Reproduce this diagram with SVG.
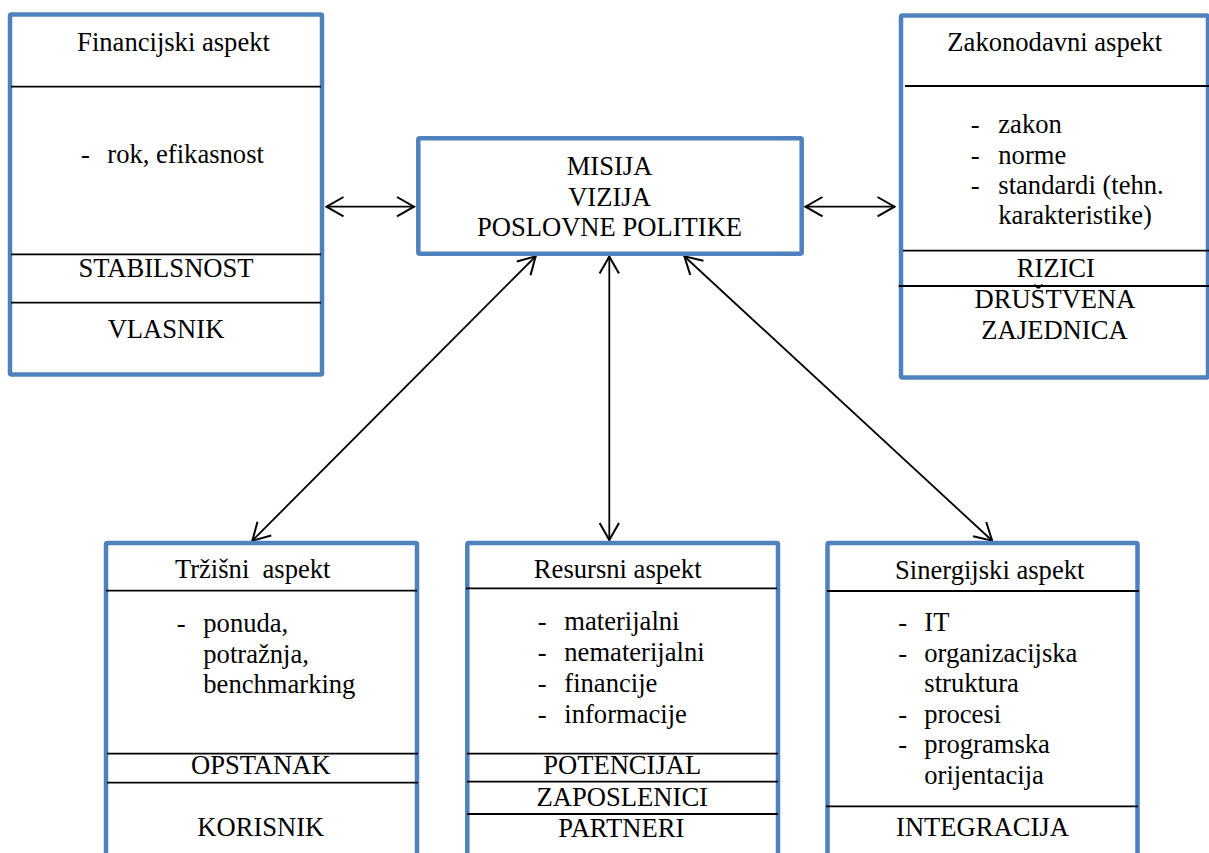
<svg xmlns="http://www.w3.org/2000/svg" width="1209" height="853" viewBox="0 0 1209 853">
<style>
.box{fill:#fff;stroke:#4F81BD;stroke-width:4.5}
.sep{stroke:#000;stroke-width:1.8}
text{font-family:'Liberation Serif','Tinos','Times New Roman','DejaVu Serif',serif;font-size:26.6px;fill:#000}
.c{text-anchor:middle}
.con{stroke:#000;stroke-width:1.8;fill:none}
</style>
<defs>
<marker id="ah" viewBox="-22 -12 24 24" markerWidth="24" markerHeight="24" refX="0" refY="0" orient="auto-start-reverse" markerUnits="userSpaceOnUse">
<path d="M-17.5,-9.7 L-0.5,0 L-17.5,9.7" fill="none" stroke="#000" stroke-width="2"/>
</marker>
</defs>
<rect width="1209" height="853" fill="#fff"/>

<g id="connectors">
<line class="con" x1="326" y1="206.7" x2="414.5" y2="206.7" marker-start="url(#ah)" marker-end="url(#ah)"/>
<line class="con" x1="805" y1="206.7" x2="895" y2="206.7" marker-start="url(#ah)" marker-end="url(#ah)"/>
<line class="con" x1="536" y1="256" x2="252" y2="541" marker-start="url(#ah)" marker-end="url(#ah)"/>
<line class="con" x1="609.3" y1="256" x2="609.3" y2="540.5" marker-start="url(#ah)" marker-end="url(#ah)"/>
<line class="con" x1="684" y1="256" x2="992.5" y2="541" marker-start="url(#ah)" marker-end="url(#ah)"/>
</g>

<g id="financijski" font-family="Liberation Serif, serif">
<rect class="box" x="10" y="14.5" width="312" height="360" rx="1.5"/>
<line class="sep" x1="11" y1="86.7" x2="321" y2="86.7"/>
<line class="sep" x1="11" y1="254.3" x2="321" y2="254.3"/>
<line class="sep" x1="11" y1="302.7" x2="321" y2="302.7"/>
<text class="c" x="173.5" y="51">Financijski aspekt</text>
<text x="81" y="163.3">-</text>
<text x="107.3" y="163.3">rok, efikasnost</text>
<text class="c" x="166" y="277.3">STABILSNOST</text>
<text class="c" x="166" y="338.3">VLASNIK</text>
</g>

<g id="misija">
<rect class="box" x="418.3" y="138.3" width="383.4" height="115.5" rx="1.5"/>
<text class="c" x="609.5" y="175">MISIJA</text>
<text class="c" x="609.5" y="206">VIZIJA</text>
<text class="c" x="609.5" y="235.7">POSLOVNE POLITIKE</text>
</g>

<g id="zakonodavni">
<rect class="box" x="901" y="15.5" width="307" height="362" rx="1.5"/>
<line class="sep" x1="905" y1="86" x2="1209" y2="86"/>
<line class="sep" x1="903" y1="250.7" x2="1209" y2="250.7"/>
<line class="sep" x1="898.7" y1="286" x2="1209" y2="286"/>
<text class="c" x="1054.8" y="50.7">Zakonodavni aspekt</text>
<text x="970.7" y="133.3">-</text>
<text x="998.3" y="133.3">zakon</text>
<text x="970.7" y="164">-</text>
<text x="998.3" y="164">norme</text>
<text x="970.7" y="194.3">-</text>
<text x="998.3" y="194.3">standardi (tehn.</text>
<text x="998.3" y="224.3">karakteristike)</text>
<text class="c" x="1055.8" y="277.3">RIZICI</text>
<text class="c" x="1055" y="308.3">DRUŠTVENA</text>
<text class="c" x="1054.5" y="339">ZAJEDNICA</text>
</g>

<g id="trzisni">
<rect class="box" x="106" y="543" width="311" height="340" rx="1.5"/>
<line class="sep" x1="106" y1="590.7" x2="417" y2="590.7"/>
<line class="sep" x1="107" y1="753.7" x2="418" y2="753.7"/>
<line class="sep" x1="107" y1="782.7" x2="418" y2="782.7"/>
<text class="c" x="252.7" y="578.3">Tržišni&#160; aspekt</text>
<text x="176.7" y="631.7">-</text>
<text x="203.3" y="631.7">ponuda,</text>
<text x="203.3" y="662.7">potražnja,</text>
<text x="203.3" y="692.7">benchmarking</text>
<text class="c" x="260.8" y="774.3">OPSTANAK</text>
<text class="c" x="260.8" y="836">KORISNIK</text>
</g>

<g id="resursni">
<rect class="box" x="467.3" y="543" width="310.7" height="340" rx="1.5"/>
<line class="sep" x1="466" y1="588.3" x2="777" y2="588.3"/>
<line class="sep" x1="467" y1="753.7" x2="778" y2="753.7"/>
<line class="sep" x1="467" y1="781.7" x2="778" y2="781.7"/>
<line class="sep" x1="467" y1="814" x2="778" y2="814"/>
<text class="c" x="617.7" y="578.3">Resursni aspekt</text>
<text x="537.7" y="630">-</text>
<text x="564.3" y="630">materijalni</text>
<text x="537.7" y="660.7">-</text>
<text x="564.3" y="660.7">nematerijalni</text>
<text x="537.7" y="691.7">-</text>
<text x="564.3" y="691.7">financije</text>
<text x="537.7" y="722.7">-</text>
<text x="564.3" y="722.7">informacije</text>
<text class="c" x="622.2" y="774.3">POTENCIJAL</text>
<text class="c" x="622.3" y="806">ZAPOSLENICI</text>
<text class="c" x="621.3" y="836.7">PARTNERI</text>
</g>

<g id="sinergijski">
<rect class="box" x="827.5" y="543" width="310" height="340" rx="1.5"/>
<line class="sep" x1="827" y1="591" x2="1139" y2="591"/>
<line class="sep" x1="826" y1="806.3" x2="1138" y2="806.3"/>
<text class="c" x="989.7" y="579.3">Sinergijski aspekt</text>
<text x="898.3" y="630.7">-</text>
<text x="924.3" y="630.7">IT</text>
<text x="898.3" y="661.7">-</text>
<text x="924.3" y="661.7">organizacijska</text>
<text x="924.3" y="691.7">struktura</text>
<text x="898.3" y="722.7">-</text>
<text x="924.3" y="722.7">procesi</text>
<text x="898.3" y="752.7">-</text>
<text x="924.3" y="752.7">programska</text>
<text x="924.3" y="784">orijentacija</text>
<text class="c" x="982.5" y="836">INTEGRACIJA</text>
</g>
</svg>
